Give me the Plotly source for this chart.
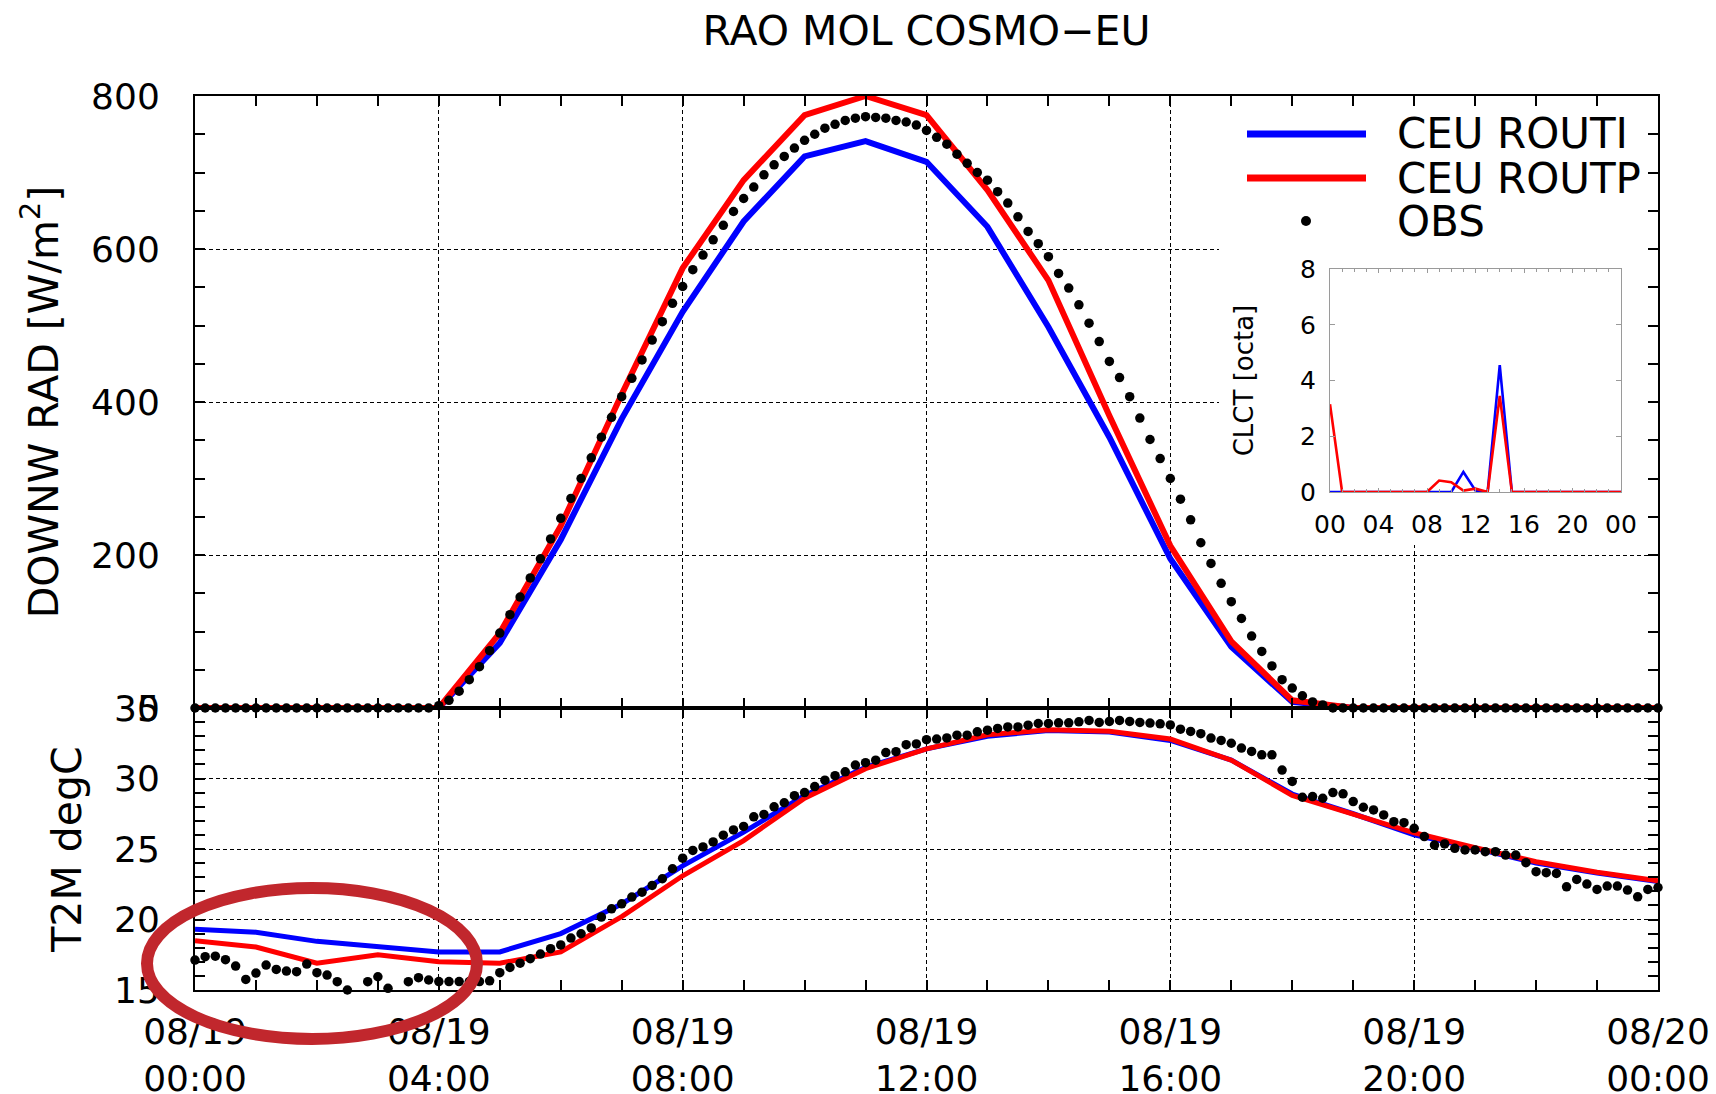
import numpy as np
import plotly.graph_objects as go

# ---------------------------------------------------------------- page geometry
FIG_W, FIG_H = 1716, 1094
M_L, M_R, M_T, M_B = 195, 58, 96, 104
PLOT_W = FIG_W - M_L - M_R
PLOT_H = FIG_H - M_T - M_B
SPLIT_PX = 708          # pixel row where the two panels meet

HOUR_RANGE = [0, 24]
RAD_RANGE = [0, 800]
T2M_RANGE = [15, 35]
CLCT_RANGE = [0, 8]


def px_x(px):
    """Horizontal page pixel -> paper fraction."""
    return (px - M_L) / PLOT_W


def px_y(py):
    """Vertical page pixel -> paper fraction."""
    return (FIG_H - M_B - py) / PLOT_H


def px_to_hour(px):
    return HOUR_RANGE[0] + px_x(px) * (HOUR_RANGE[1] - HOUR_RANGE[0])


def px_to_rad(py):
    frac = (SPLIT_PX - py) / (SPLIT_PX - M_T)
    return RAD_RANGE[0] + frac * (RAD_RANGE[1] - RAD_RANGE[0])


FONT = "DejaVu Sans"
BLUE = "#0000ff"
RED = "#ff0000"

# ---------------------------------------------------------------- data
model_hours = np.arange(0, 25)          # hourly model output, 08/19 00:00 .. 08/20 00:00
obs_hours = np.arange(0, 145) / 6.0     # 10-minute station observations

# downward shortwave radiation [W/m2]
rad_routi = [0, 0, 0, 0, 0, 85, 220, 378, 518, 636, 721, 741, 714,
             629, 498, 354, 195, 80, 8, 0, 0, 0, 0, 0, 0]
rad_routp = [0, 0, 0, 0, 0, 98, 238, 410, 575, 690, 775, 800, 775,
             677, 559, 382, 212, 87, 10, 0, 0, 0, 0, 0, 0]
rad_obs = [0] * 24 + [
    3, 10, 22, 37, 54, 75, 98, 122, 145, 170, 195, 221,
    248, 274, 300, 327, 354, 380, 407, 431, 455, 481, 505, 529,
    551, 573, 592, 612, 631, 649, 666, 681, 697, 710, 721, 732,
    742, 750, 758, 763, 768, 771, 773, 772, 771, 768, 766, 762,
    755, 746, 737, 724, 712, 700, 690, 675, 660, 642, 623, 607,
    590, 568, 549, 527, 503, 479, 453, 432, 407, 379, 351, 326,
    300, 273, 246, 216, 189, 163, 139, 117, 94, 74, 55, 37,
    26, 16, 8, 4] + [0] * 33

# 2 m temperature [degC]
t2m_routi = [19.3, 19.1, 18.45, 18.1, 17.7, 17.7, 19.0, 21.1, 23.8, 26.2, 28.8, 30.8, 32.1,
             33.0, 33.4, 33.3, 32.7, 31.3, 28.9, 27.5, 26.0, 25.05, 24.0, 23.3, 22.7]
t2m_routp = [18.5, 18.05, 16.9, 17.5, 17.0, 16.9, 17.7, 20.2, 23.1, 25.6, 28.6, 30.7, 32.1,
             33.1, 33.45, 33.35, 32.8, 31.3, 28.8, 27.5, 26.15, 25.1, 24.1, 23.35, 22.75]
t2m_obs = [
    17.12, 17.36, 17.40, 17.15, 16.70, 15.75, 16.20, 16.77, 16.46, 16.34, 16.30, 16.84,
    16.23, 16.06, 15.59, 15.00, None, 15.59, 15.94, 15.12, None, 15.59, 15.87, 15.71,
    15.60, 15.60, 15.60, 15.60, 15.60, 15.65, 16.23, 16.60, 16.90, 17.22, 17.55, 17.93,
    18.20, 18.68, 18.99, 19.40, 20.17, 20.76, 21.11, 21.59, 21.94, 22.42, 22.89, 23.60,
    24.35, 24.90, 25.15, 25.50, 25.98, 26.35, 26.60, 27.28, 27.45, 27.99, 28.28, 28.78,
    29.00, 29.43, 29.88, 30.20, 30.47, 30.95, 31.12, 31.30, 31.84, 31.90, 32.40, 32.45,
    32.75, 32.80, 32.88, 33.07, 33.07, 33.31, 33.43, 33.55, 33.66, 33.66, 33.78, 33.90,
    33.90, 33.95, 33.95, 34.02, 34.12, 33.98, 34.05, 34.12, 34.05, 33.98, 33.93, 33.88,
    33.80, 33.50, 33.34, 33.18, 32.87, 32.70, 32.50, 32.16, 31.92, 31.68, 31.68, 30.60,
    29.79, 28.67, 28.72, 28.60, 29.00, 28.91, 28.36, 27.96, 27.77, 27.42, 26.94, 26.87,
    26.47, 25.88, 25.28, 25.36, 25.05, 24.93, 24.93, 24.81, 24.81, 24.57, 24.57, 24.03,
    23.39, 23.32, 23.27, 22.32, 22.84, 22.51, 22.13, 22.37, 22.37, 22.09, 21.61, 22.13,
    22.27]

# total cloud cover [octa]
clct_routi = [0, 0, 0, 0, 0, 0, 0, 0, 0, 0, 0, 0.72, 0.05,
              0, 4.55, 0, 0, 0, 0, 0, 0, 0, 0, 0, 0]
clct_routp = [3.15, 0, 0, 0, 0, 0, 0, 0, 0, 0.41, 0.35, 0.05, 0.12,
              0, 3.45, 0, 0, 0, 0, 0, 0, 0, 0, 0, 0]

# tick labels
main_tick_hours = [0, 4, 8, 12, 16, 20, 24]
main_tick_text = ["08/19<br>00:00", "08/19<br>04:00", "08/19<br>08:00", "08/19<br>12:00",
                  "08/19<br>16:00", "08/19<br>20:00", "08/20<br>00:00"]
inset_tick_text = ["00", "04", "08", "12", "16", "20", "00"]

series_names = ["CEU ROUTI", "CEU ROUTP", "OBS"]

# ---------------------------------------------------------------- traces
fig = go.Figure()

# radiation panel
fig.add_trace(go.Scatter(x=model_hours, y=rad_routi, mode="lines", name=series_names[0],
                         line=dict(color=BLUE, width=6), xaxis="x", yaxis="y",
                         cliponaxis=False, showlegend=False))
fig.add_trace(go.Scatter(x=model_hours, y=rad_routp, mode="lines", name=series_names[1],
                         line=dict(color=RED, width=6), xaxis="x", yaxis="y",
                         cliponaxis=False, showlegend=False))
fig.add_trace(go.Scatter(x=obs_hours, y=rad_obs, mode="markers", name=series_names[2],
                         marker=dict(color="black", size=9.5, symbol="circle"),
                         xaxis="x", yaxis="y", cliponaxis=False, showlegend=False))

# temperature panel
fig.add_trace(go.Scatter(x=model_hours, y=t2m_routi, mode="lines", name=series_names[0],
                         line=dict(color=BLUE, width=5), xaxis="x2", yaxis="y2",
                         cliponaxis=False, showlegend=False))
fig.add_trace(go.Scatter(x=model_hours, y=t2m_routp, mode="lines", name=series_names[1],
                         line=dict(color=RED, width=5), xaxis="x2", yaxis="y2",
                         cliponaxis=False, showlegend=False))
fig.add_trace(go.Scatter(x=obs_hours, y=t2m_obs, mode="markers", name=series_names[2],
                         marker=dict(color="black", size=9.5, symbol="circle"),
                         xaxis="x2", yaxis="y2", cliponaxis=False, showlegend=False))

# cloud-cover inset
fig.add_trace(go.Scatter(x=model_hours, y=clct_routi, mode="lines", name=series_names[0],
                         line=dict(color=BLUE, width=2.6), xaxis="x3", yaxis="y3",
                         cliponaxis=False, showlegend=False))
fig.add_trace(go.Scatter(x=model_hours, y=clct_routp, mode="lines", name=series_names[1],
                         line=dict(color=RED, width=2.6), xaxis="x3", yaxis="y3",
                         cliponaxis=False, showlegend=False))

# ---------------------------------------------------------------- axes
tick_font = dict(family=FONT, size=36, color="black")
title_font = dict(family=FONT, size=41, color="black")
grid_common = dict(showgrid=True, gridcolor="black", gridwidth=1.3, griddash="4px,3px",
                   zeroline=False, showline=True, linecolor="black", linewidth=2,
                   mirror="allticks", ticks="inside", ticklen=10, tickwidth=1.6,
                   tickcolor="black")

split_frac = px_y(SPLIT_PX)

xaxis_common = dict(range=HOUR_RANGE, tickmode="array", tickvals=main_tick_hours,
                    minor=dict(dtick=1, tick0=0, ticks="inside", ticklen=10, tickwidth=1.6,
                               tickcolor="black", showgrid=False),
                    **grid_common)

fig.update_layout(
    xaxis=dict(domain=[0, 1], anchor="y", showticklabels=False, **xaxis_common),
    yaxis=dict(domain=[split_frac, 1], anchor="x", range=RAD_RANGE, dtick=200, tick0=0,
               tickfont=tick_font, ticklabelstandoff=26,
               minor=dict(dtick=50, ticks="inside", ticklen=10, tickwidth=1.6,
                          tickcolor="black", showgrid=False),
               title=dict(text="DOWNW RAD [W/m<sup>2</sup>]", font=title_font, standoff=20),
               **grid_common),
    xaxis2=dict(domain=[0, 1], anchor="y2", ticktext=main_tick_text, tickfont=tick_font,
                ticklabelstandoff=9, **xaxis_common),
    yaxis2=dict(domain=[0, split_frac], anchor="x2", range=T2M_RANGE, dtick=5, tick0=15,
                tickfont=tick_font, ticklabelstandoff=26,
                minor=dict(dtick=1, ticks="inside", ticklen=10, tickwidth=1.6,
                           tickcolor="black", showgrid=False),
                title=dict(text="T2M degC", font=title_font, standoff=20),
                **grid_common),
    xaxis3=dict(domain=[px_x(1330), px_x(1621)], anchor="y3", range=HOUR_RANGE,
                tickmode="array", tickvals=main_tick_hours, ticktext=inset_tick_text,
                tickfont=dict(family=FONT, size=25, color="black"), ticklabelstandoff=10,
                showgrid=False, zeroline=False, showline=True, linecolor="#9a9a9a",
                linewidth=1.3, mirror="ticks", ticks="inside", ticklen=4, tickwidth=1,
                tickcolor="#9a9a9a",
                minor=dict(dtick=1, ticks="inside", ticklen=3, tickwidth=1,
                           tickcolor="#9a9a9a")),
    yaxis3=dict(domain=[px_y(492), px_y(269)], anchor="x3", range=CLCT_RANGE, dtick=2, tick0=0,
                tickfont=dict(family=FONT, size=25, color="black"), ticklabelstandoff=8,
                showgrid=False, zeroline=False, showline=True, linecolor="#9a9a9a",
                linewidth=1.3, mirror="ticks", ticks="inside", ticklen=5, tickwidth=1,
                tickcolor="#9a9a9a",
                title=dict(text="CLCT [octa]", font=dict(family=FONT, size=26, color="black"),
                           standoff=38)),
)

# ---------------------------------------------------------------- decorations
shapes = []

# white backing behind the key and the inset (hides the grid there)
shapes.append(dict(type="rect", xref="x", yref="y",
                   x0=px_to_hour(1219), x1=px_to_hour(1650),
                   y0=px_to_rad(545), y1=px_to_rad(100),
                   fillcolor="white", line=dict(width=0), layer="between"))

# key samples
key_rows = [134, 178, 221]
for row, colour in zip(key_rows[:2], [BLUE, RED]):
    shapes.append(dict(type="line", xref="paper", yref="paper",
                       x0=px_x(1247), x1=px_x(1366), y0=px_y(row), y1=px_y(row),
                       line=dict(color=colour, width=7), layer="above"))
shapes.append(dict(type="circle", xref="paper", yref="paper",
                   x0=px_x(1301), x1=px_x(1311), y0=px_y(key_rows[2] + 5), y1=px_y(key_rows[2] - 5),
                   fillcolor="black", line=dict(width=0), layer="above"))

# highlight ring around the night-time temperature bias
shapes.append(dict(type="circle", xref="paper", yref="paper",
                   x0=px_x(147), x1=px_x(477), y0=px_y(1039), y1=px_y(888),
                   line=dict(color="#c1272d", width=12), fillcolor="rgba(0,0,0,0)",
                   layer="above"))

annotations = []
for row, name in zip(key_rows, series_names):
    annotations.append(dict(text=name, xref="paper", yref="paper", x=px_x(1395), y=px_y(row),
                            xanchor="left", yanchor="middle", showarrow=False,
                            font=dict(family=FONT, size=42, color="black")))

fig.update_layout(
    width=FIG_W, height=FIG_H,
    margin=dict(l=M_L, r=M_R, t=M_T, b=M_B, autoexpand=False),
    paper_bgcolor="white", plot_bgcolor="white",
    title=dict(text="RAO MOL COSMO\u2212EU", x=0.5, xref="paper", xanchor="center",
               y=1 - 31 / FIG_H, yref="container", yanchor="middle",
               font=dict(family=FONT, size=41, color="black")),
    font=dict(family=FONT, color="black"),
    shapes=shapes, annotations=annotations, showlegend=False,
)

fig.write_html("out.html")
